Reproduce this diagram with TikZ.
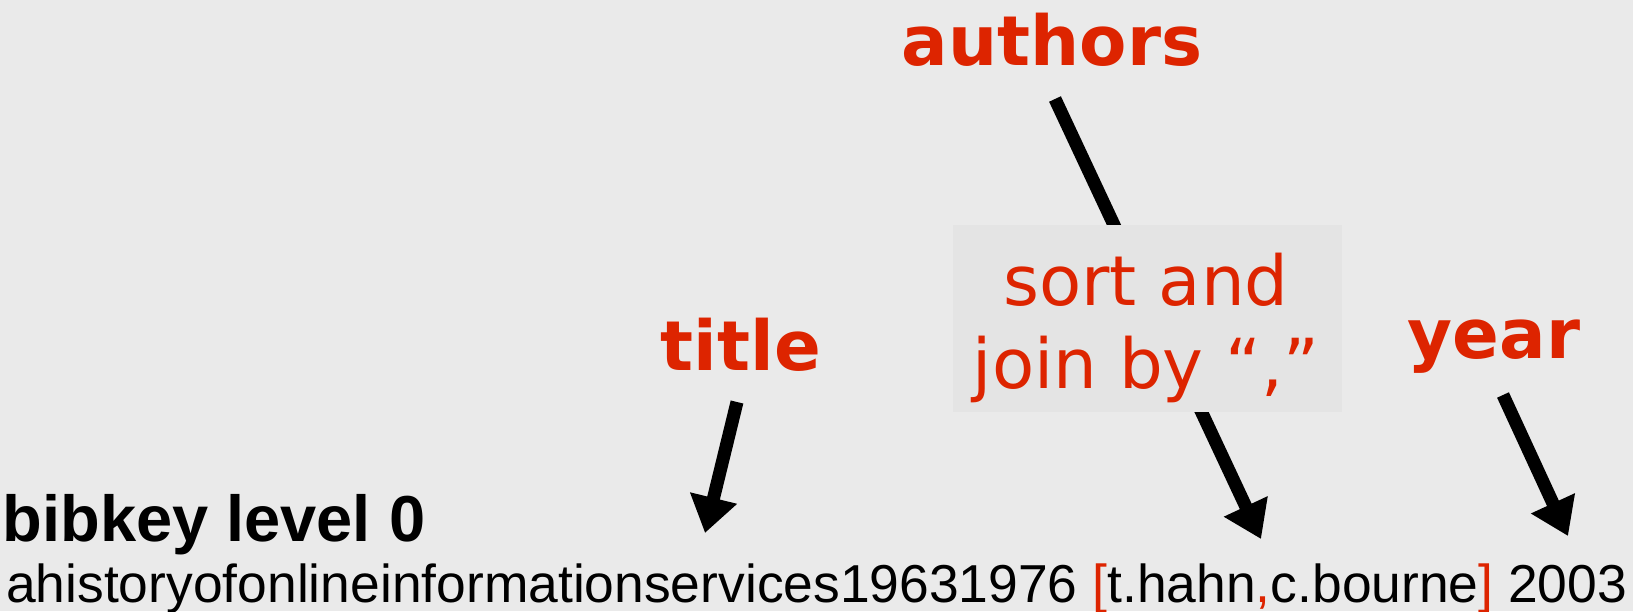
\documentclass[tikz,border=0pt]{standalone}
\usepackage{fontspec}
\setmainfont{Liberation Sans}
\newfontfamily\dvs{DejaVu Sans}
\usetikzlibrary{arrows.meta}
\definecolor{bgc}{RGB}{234,234,234}
\definecolor{boxc}{RGB}{228,228,228}
\definecolor{hl}{RGB}{221,36,0}
\tikzset{
  lbl/.style={inner sep=0pt, anchor=base, text=hl, font=\dvs\bfseries\fontsize{69}{69}\selectfont},
  boxtxt/.style={inner sep=0pt, anchor=base, text=hl, font=\dvs\fontsize{69}{69}\selectfont},
  ptr/.style={line width=13pt, -{Triangle[length=36pt,width=46pt]}},
}
\begin{document}
\begin{tikzpicture}[x=1pt,y=-1pt]
\fill[bgc] (0,0) rectangle (1633,611);
\useasboundingbox (0,0) rectangle (1633,611);
% labels
\node[lbl] (authors) at (1052,65) {authors};
\node[lbl] (title) at (741,370) {title};
\node[lbl] (year) at (1494,358) {year};
% bottom texts
\node[inner sep=0pt, anchor=base west, font=\bfseries\fontsize{65}{65}\selectfont] (bib) at (2.3,541) {bibkey level 0};
\node[inner sep=0pt, anchor=base west, font=\fontsize{53.4}{53.4}\selectfont] (key) at (6,602)
  {ahistoryofonlineinformationservices19631976 \textcolor{hl}{[}t.hahn\textcolor{hl}{,}c.bourne\textcolor{hl}{]} 2003};
% connector end points
\coordinate (titleS) at (737,402);
\coordinate (titleE) at (705,533);
\coordinate (authS) at (1055,99);
\coordinate (authE) at (1261,539);
\coordinate (yearS) at (1503,395);
\coordinate (yearE) at (1568,536);
\draw[ptr] (titleS) -- (titleE);
\draw[ptr] (authS) -- (authE);
\draw[ptr] (yearS) -- (yearE);
% box over the authors arrow
\node[fill=boxc, inner sep=0pt, minimum width=389pt, minimum height=187pt] (box) at (1147.5,318.5) {};
\node[boxtxt] (sortl) at (1146,305) {sort and};
\node[boxtxt] (joinl) at (1146,388) {join by “,”};
\end{tikzpicture}
\end{document}
